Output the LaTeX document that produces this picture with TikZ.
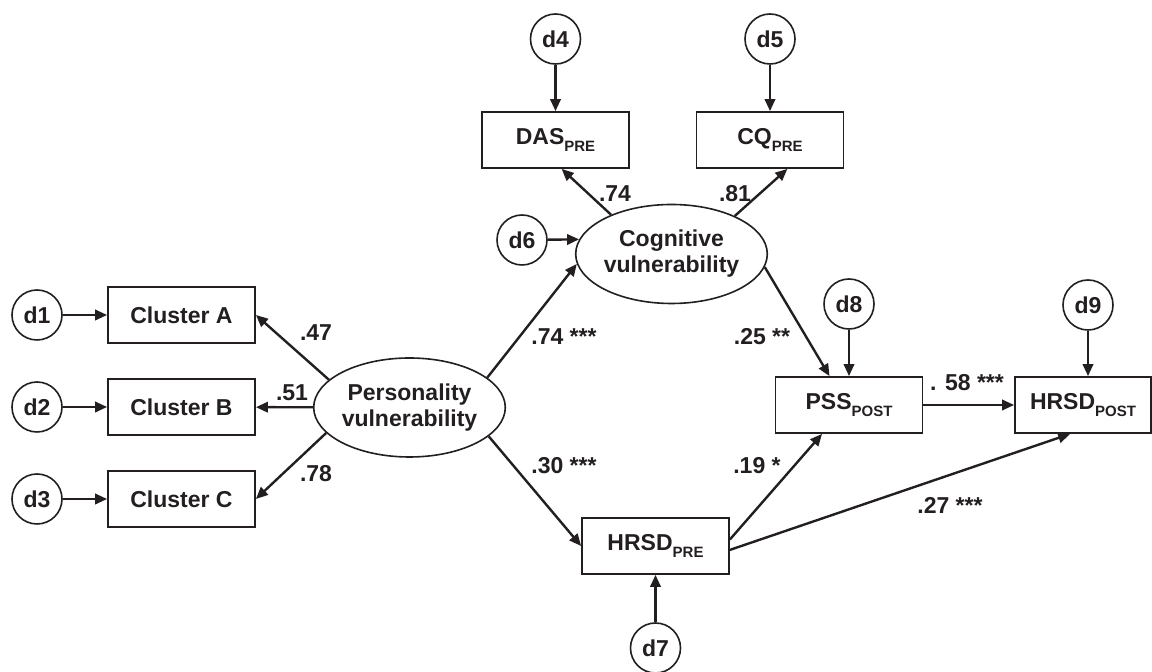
\documentclass[tikz,border=0pt]{standalone}
\usepackage{fontspec}
\setmainfont{Liberation Sans}
\usetikzlibrary{shapes.geometric,arrows.meta}
\definecolor{ink}{HTML}{231F20}
\newcommand\subtxt[1]{\raisebox{-3.2pt}{\fontsize{7.5}{8}\selectfont #1}}
\begin{document}
\begin{tikzpicture}
[x=0.5pt,y=-0.5pt,%
  >={Triangle[length=6pt,width=5.2pt]},%
  every node/.style={font=\fontsize{11.5}{13}\selectfont\bfseries,text=ink},%
  obs/.style={draw=ink,line width=0.9pt,minimum width=73.5pt,minimum height=28pt,inner sep=0pt},%
  lat/.style={draw=ink,ellipse,line width=0.8pt,minimum width=93.5pt,minimum height=49.5pt,inner sep=0pt,align=center},%
  err/.style={draw=ink,circle,line width=0.8pt,minimum size=25pt,inner sep=0pt},%
  coef/.style={inner sep=0pt},%
  arr/.style={->,draw=ink,line width=1.2pt}]
\useasboundingbox (0,0) rectangle (1152,672);
\node[lat] (pv) at (409.5,407.5) {Personality\\vulnerability};
\node[lat] (cv) at (671.5,254) {Cognitive\\vulnerability};
\node[obs] (ca) at (181.5,315) {Cluster A};
\node[obs] (cb) at (181.5,407) {Cluster B};
\node[obs] (cc) at (181.5,499) {Cluster C};
\node[obs] (das) at (555.5,140) {DAS\subtxt{PRE}};
\node[obs] (cq) at (770,140) {CQ\subtxt{PRE}};
\node[obs] (ps) at (849,405) {PSS\subtxt{POST}};
\node[obs,minimum width=68pt] (ho) at (1083,405) {HRSD\subtxt{POST}};
\node[obs] (hp) at (655.5,546) {HRSD\subtxt{PRE}};
\node[err] (d1) at (37,315) {d1};
\node[err] (d2) at (37,407) {d2};
\node[err] (d3) at (37,499) {d3};
\node[err] (d4) at (555.5,39) {d4};
\node[err] (d5) at (770,39) {d5};
\node[err] (d6) at (522,240) {d6};
\node[err] (d7) at (655.5,648) {d7};
\node[err] (d8) at (849,304) {d8};
\node[err] (d9) at (1088,305) {d9};
\draw[arr] (d1) -- (ca);
\draw[arr] (d2) -- (cb);
\draw[arr] (d3) -- (cc);
\draw[arr] (d4) -- (das);
\draw[arr] (d5) -- (cq);
\draw[arr] (d6) -- (cv.171);
\draw[arr] (d7) -- (hp);
\draw[arr] (d8) -- (ps);
\draw[arr] (d9) -- (d9 |- ho.north);
\draw[arr] (pv.161) -- (ca.east);
\draw[arr] (pv) -- (cb);
\draw[arr] (pv.197.6) -- (cc.east);
\draw[arr] (pv.21.6) -- (cv.186.7);
\draw[arr] (pv.340.5) -- (hp.west);
\draw[arr] (cv.147.7) -- (das.282);
\draw[arr] (cv.31) -- (cq.301);
\draw[arr] (cv.352.5) -- (ps.124);
\draw[arr] (ps) -- (ho);
\draw[arr] (hp.5) -- (ps.227);
\draw[arr] (hp.357) -- (ho.246.7);
\node[coef] (l1) at (316,333) {.47};
\node[coef] (l2) at (292,393) {.51};
\node[coef] (l3) at (316,474) {.78};
\node[coef] (l4) at (564,337) {.74 ***};
\node[coef] (l5) at (564,466) {.30 ***};
\node[coef] (l6) at (615,194) {.74};
\node[coef] (l7) at (735,194) {.81};
\node[coef] (l8) at (762,337) {.25 **};
\node[coef] (l9) at (757,466) {.19 *};
\node[coef] (l10) at (967,383) {. 58 ***};
\node[coef] (l11) at (950,505) {.27 ***};
\end{tikzpicture}
\end{document}
